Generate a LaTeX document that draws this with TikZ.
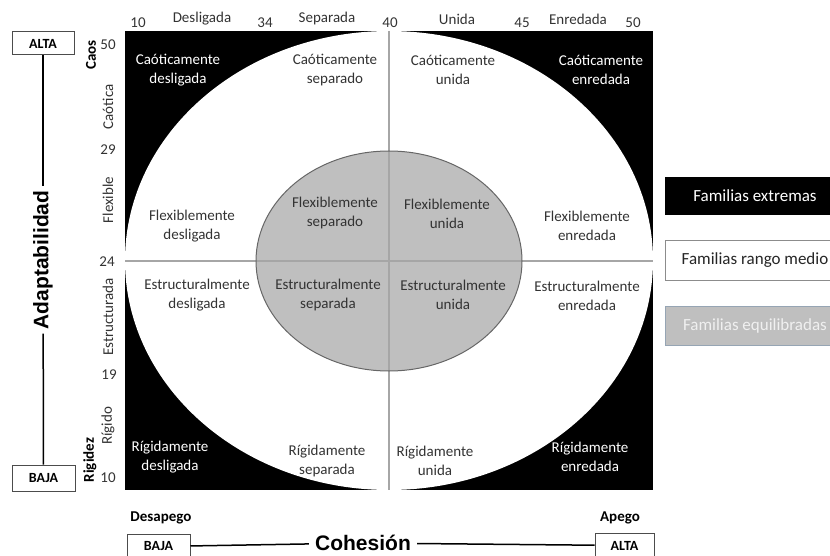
\documentclass[tikz,border=0pt]{standalone}
\usepackage{fontspec}
\setmainfont{Carlito}
\newfontfamily\arialf{Liberation Sans}
\begin{document}
\begin{tikzpicture}[x=1pt,y=-1pt,
  cell/.style={font=\fontsize{15}{19}\selectfont, align=center, text=black!80, inner sep=0pt},
  wcell/.style={cell, text=white},
  axlab/.style={font=\fontsize{15}{18}\selectfont, text=black!80, inner sep=0pt},
  axbold/.style={font=\fontsize{15}{17}\selectfont\bfseries, text=black, inner sep=0pt},
  endbox/.style={draw=black!70, line width=1pt, fill=white, font=\fontsize{14}{16}\selectfont\bfseries,
     minimum height=23pt, inner sep=0pt},
  bigtitle/.style={font=\arialf\fontsize{21}{24}\selectfont\bfseries, inner sep=4pt},
  legbox/.style={minimum width=180pt, minimum height=38pt, inner sep=0pt, font=\fontsize{17}{20}\selectfont},
  crossline/.style={draw=black!35, line width=1.3pt}
]
\useasboundingbox (0,0) rectangle (830,556);
\clip (0,0) rectangle (830,556);

% main square and ellipses
\fill[black] (125,31) rectangle (653,490);
\fill[white] (389,260.5) ellipse [x radius=264pt, y radius=229.5pt];
\fill[black!25] (389,261) ellipse [x radius=133pt, y radius=110pt];
\draw[crossline] (125,261) -- (653,261);
\draw[crossline] (389,31) -- (389,490);
\draw[black!60, line width=1pt] (389,261) ellipse [x radius=133pt, y radius=110pt];

% cells
\node[wcell] (c11) at (178,70) {Caóticamente\\desligada};
\node[cell]  (c12) at (335,70) {Caóticamente\\separado};
\node[cell]  (c13) at (453,70) {Caóticamente\\unida};
\node[wcell] (c14) at (601,70) {Caóticamente\\enredada};

\node[cell] (c21) at (192,226) {Flexiblemente\\desligada};
\node[cell] (c22) at (335,213.5) {Flexiblemente\\separado};
\node[cell] (c23) at (447,213.5) {Flexiblemente\\unida};
\node[cell] (c24) at (587,226) {Flexiblemente\\enredada};

\node[cell] (c31) at (197,295.5) {Estructuralmente\\desligada};
\node[cell] (c32) at (328,295) {Estructuralmente\\separada};
\node[cell] (c33) at (453,295) {Estructuralmente\\unida};
\node[cell] (c34) at (587,296) {Estructuralmente\\enredada};

\node[wcell] (c41) at (170,457) {Rígidamente\\desligada};
\node[cell]  (c42) at (327,461) {Rígidamente\\separada};
\node[cell]  (c43) at (435,461) {Rígidamente\\unida};
\node[wcell] (c44) at (590,457) {Rígidamente\\enredada};

% top axis
\node[axlab] (t10) at (138,23) {10};
\node[axlab] (tdes) at (202,19) {Desligada};
\node[axlab] (t34) at (265,23) {34};
\node[axlab] (tsep) at (327,19) {Separada};
\node[axlab] (t40) at (390,23) {40};
\node[axlab] (tuni) at (457,19) {Unida};
\node[axlab] (t45) at (522,23) {45};
\node[axlab] (tenr) at (578,19) {Enredada};
\node[axlab] (t50) at (633,23) {50};

% left axis
\node[axlab] (l50) at (108,45) {50};
\node[axbold, rotate=90] (lcaos) at (91,55) {Caos};
\node[axlab, rotate=90] (lcao) at (108,107) {Caótica};
\node[axlab] (l29) at (108,150) {29};
\node[axlab, rotate=90] (lflex) at (108,200) {Flexible};
\node[axlab] (l24) at (107,262) {24};
\node[axlab, rotate=90] (lest) at (108,317) {Estructurada};
\node[axlab] (l19) at (109,375) {19};
\node[axlab, rotate=90] (lrig) at (108,426) {Rígido};
\node[axbold, rotate=90] (lrigz) at (90,460) {Rigidez};
\node[axlab] (l10) at (108,478) {10};

% adaptability axis
\node[endbox, minimum width=62pt] (altaL) at (43,43.5) {ALTA};
\node[endbox, minimum width=63pt, minimum height=26pt] (bajaL) at (43.5,478) {BAJA};
\node[bigtitle, rotate=90] (adap) at (43,260) {Adaptabilidad};
\draw[line width=1.5pt] (altaL) -- (adap);
\draw[line width=1.5pt] (adap) -- (bajaL);

% cohesion axis
\node[axbold] (desap) at (161,518) {Desapego};
\node[axbold] (apego) at (620,518) {Apego};
\node[endbox, minimum width=63pt, minimum height=25pt] (bajaB) at (158.5,546.5) {BAJA};
\node[endbox, minimum width=59pt, minimum height=25pt] (altaB) at (624.5,545.5) {ALTA};
\node[bigtitle, inner sep=6pt] (coh) at (363,543) {Cohesión};
\draw[line width=1.5pt] (bajaB) -- (coh);
\draw[line width=1.5pt] (coh) -- (altaB);

% legend
\node[legbox, fill=black, text=white] (lg1) at (755,196) {Familias extremas};
\node[legbox, draw=black!45, line width=1pt, fill=white, text=black!85, minimum height=39pt] (lg2) at (755,260.5) {Familias rango medio};
\node[legbox, draw={rgb,255:red,150;green,165;blue,180}, line width=1pt, fill=black!25, text=black!6, minimum height=39pt] (lg3) at (755,325.5) {Familias equilibradas};
\end{tikzpicture}
\end{document}
